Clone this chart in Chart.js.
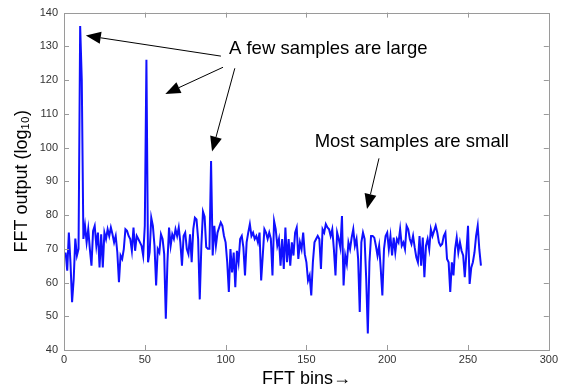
<!DOCTYPE html>
<html>
<head>
<meta charset="utf-8">
<script src="https://cdn.jsdelivr.net/npm/chart.js@4/dist/chart.umd.min.js"></script>
<style>
  html, body { margin: 0; padding: 0; background: #ffffff; }
  #wrap { width: 561px; height: 391px; }
</style>
</head>
<body>
<div id="wrap"><canvas id="c" width="561" height="391"></canvas></div>
<script>
// ---- data ----
const fftValues = [
  // bins 1-40
  68.9, 63.5, 74.8, 66, 54.2, 61, 73, 68, 70, 136, 120, 72.9, 76.8, 71.9, 75.8, 69.9, 65, 75.3, 76.8, 70.9,
  74.8, 64.5, 74.3, 64.5, 74.8, 72.9, 75.8, 73.8, 76.3, 74.3, 71.9, 73.8, 68.9, 60.1, 68, 67, 69.9, 75.8, 75.3, 73.8,
  // bins 41-83
  72.9, 69.4, 76.3, 69.4, 73.8, 72.9, 71.9, 70.9, 68, 76.8, 126, 66, 69, 79.2, 76.8, 70.9, 59.1, 69.9, 68.9, 74.3,
  72.9, 68.4, 49.3, 66, 76.3, 70.9, 74.3, 72.9, 75.8, 73.8, 76.3, 71.9, 65, 73.8, 74.8, 69.9, 68.4, 74.3, 66, 75.8,
  79.2, 78.7, 72.9,
  // bins 84-127
  55, 71, 81, 79.5, 70.5, 70, 70, 96, 68, 76.8, 70.9, 74.8, 76.3, 77.8, 76.8, 73.8, 71.9, 66, 57.2, 69.9,
  63, 68.9, 58.6, 69.4, 66, 72.9, 73.8, 70.4, 62.1, 71.9, 74.8, 77.3, 73.8, 74.8, 72.9, 73.8, 71.9, 74.8, 60.6, 68,
  75.8, 74.8, 72.9, 74.8,
  // bins 128-170
  72.9, 62.1, 78.2, 75.8, 70.9, 72.9, 65, 72.9, 64, 76.3, 66, 72.9, 65, 71.9, 68, 74.8, 76.3, 67, 71.9, 69.9,
  74.8, 68.4, 66, 60.6, 62.1, 56.2, 66, 71.9, 72.9, 73.8, 72.9, 64, 75.8, 74.8, 77.3, 76.3, 75.8, 73.8, 75.8, 69.9,
  62.1, 74.8, 72.9,
  // bins 171-213
  70.4, 79.7, 59.1, 68, 65.5, 71.9, 69.9, 73.3, 75.8, 70.9, 72.9, 67, 51.3, 71.9, 74.8, 72.9, 61.1, 44.9, 66, 73.8,
  73.8, 73.3, 70.9, 68, 70.9, 64, 56.2, 69.9, 73.8, 74.8, 69.9, 73.8, 68, 73.3, 68.9, 72.9, 71.9, 75.8, 70.9, 71.9,
  69.9, 76.8, 75.8,
  // bins 214-258
  72.9, 71.4, 73.8, 70.4, 67.5, 66, 73.8, 65, 73.3, 61.6, 70.9, 72.9, 69.9, 75.8, 73.8, 75.3, 76.8, 74.8, 71.9, 70.9,
  71.4, 73.8, 74.8, 67, 66, 57.2, 66, 62.1, 69.9, 73.3, 68.9, 71.9, 69.4, 68, 61.6, 68.9, 76.8, 59.6, 64.4, 66,
  68.9, 73.8, 76.8, 69.8, 65
];
const xTickValues = [0, 50, 100, 150, 200, 250, 300];
const yTickValues = [40, 50, 60, 70, 80, 90, 100, 110, 120, 130, 140];
const xTitle = 'FFT bins\u2192';
const yTitle = 'FFT output (log\u2081\u2080)';

// annotations (in data units)
const noteTexts = ['A few samples are large', 'Most samples are small'];
const noteX = [163.5, 215.2];
const noteY = [129.1, 101.8];
const arrowFromX = [97.1, 98.4, 105.7, 194.9];
const arrowFromY = [127.1, 123.8, 123.5, 96.8];
const arrowToX = [13.5, 62.7, 91.6, 187.5];
const arrowToY = [133.2, 115.9, 98.8, 81.8];

const FONT = "'Liberation Sans', Arial, Helvetica, sans-serif";

const framePlugin = {
  id: 'frameAndNotes',
  afterDatasetsDraw(chart) {
    const ctx = chart.ctx;
    const a = chart.chartArea;
    const xs = chart.scales.x, ys = chart.scales.y;
    ctx.save();
    // frame
    ctx.strokeStyle = '#9a9a9a';
    ctx.lineWidth = 1;
    ctx.strokeRect(Math.round(a.left) + 0.5, Math.round(a.top) + 0.5,
                   Math.round(a.right - a.left), Math.round(a.bottom - a.top));
    // inward ticks
    const tl = 5;
    ctx.beginPath();
    xTickValues.forEach(v => {
      const px = Math.round(xs.getPixelForValue(v)) + 0.5;
      if (v === xs.min || v === xs.max) return;
      ctx.moveTo(px, a.bottom); ctx.lineTo(px, a.bottom - tl);
      ctx.moveTo(px, a.top); ctx.lineTo(px, a.top + tl);
    });
    yTickValues.forEach(v => {
      const py = Math.round(ys.getPixelForValue(v)) + 0.5;
      if (v === ys.min || v === ys.max) return;
      ctx.moveTo(a.left, py); ctx.lineTo(a.left + tl, py);
      ctx.moveTo(a.right, py); ctx.lineTo(a.right - tl, py);
    });
    ctx.stroke();

    // text notes
    ctx.fillStyle = '#000';
    ctx.font = '18.5px ' + FONT;
    ctx.textAlign = 'center';
    ctx.textBaseline = 'middle';
    noteTexts.forEach((t, i) => {
      ctx.fillText(t, xs.getPixelForValue(noteX[i]), ys.getPixelForValue(noteY[i]));
    });

    // arrows
    ctx.strokeStyle = '#000';
    ctx.fillStyle = '#000';
    ctx.lineWidth = 1;
    for (let i = 0; i < arrowFromX.length; i++) {
      const x1 = xs.getPixelForValue(arrowFromX[i]), y1 = ys.getPixelForValue(arrowFromY[i]);
      const x2 = xs.getPixelForValue(arrowToX[i]), y2 = ys.getPixelForValue(arrowToY[i]);
      const ang = Math.atan2(y2 - y1, x2 - x1);
      const hl = 15, hw = 6;
      const bx = x2 - hl * Math.cos(ang), by = y2 - hl * Math.sin(ang);
      ctx.beginPath();
      ctx.moveTo(x1, y1); ctx.lineTo(bx, by);
      ctx.stroke();
      ctx.beginPath();
      ctx.moveTo(x2, y2);
      ctx.lineTo(bx + hw * Math.sin(ang), by - hw * Math.cos(ang));
      ctx.lineTo(bx - hw * Math.sin(ang), by + hw * Math.cos(ang));
      ctx.closePath();
      ctx.fill();
    }
    ctx.restore();
  }
};

new Chart(document.getElementById('c'), {
  type: 'line',
  data: {
    datasets: [{
      data: fftValues.map((v, i) => ({ x: i + 1, y: v })),
      borderColor: '#1010ff',
      borderWidth: 2,
      pointRadius: 0,
      tension: 0,
      fill: false
    }]
  },
  options: {
    responsive: false,
    animation: false,
    layout: { padding: { top: 10, right: 9, bottom: 0, left: 0 } },
    plugins: { legend: { display: false }, tooltip: { enabled: false } },
    scales: {
      x: {
        type: 'linear',
        min: 0, max: 300,
        afterBuildTicks: s => { s.ticks = xTickValues.map(v => ({ value: v })); },
        afterFit: s => { s.height = 41; },
        grid: { display: false, drawTicks: false },
        border: { display: false },
        ticks: { color: '#333', font: { family: FONT, size: 11 }, padding: 3, maxRotation: 0 },
        title: { display: true, text: xTitle, color: '#000', font: { family: FONT, size: 18 }, padding: { top: 0, bottom: 1 } }
      },
      y: {
        min: 40, max: 140,
        afterBuildTicks: s => { s.ticks = yTickValues.map(v => ({ value: v })); },
        afterFit: s => { s.width = 64; },
        grid: { display: false, drawTicks: false },
        border: { display: false },
        ticks: { color: '#333', font: { family: FONT, size: 11 }, padding: 6 },
        title: { display: true, text: yTitle, color: '#000', font: { family: FONT, size: 18 }, padding: { top: 11, bottom: 0 } }
      }
    }
  },
  plugins: [framePlugin]
});
</script>
</body>
</html>
